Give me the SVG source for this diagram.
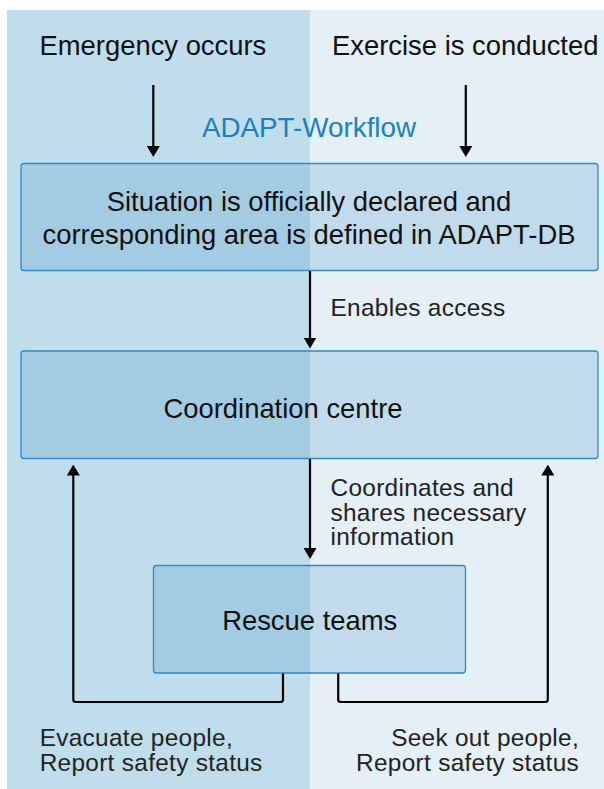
<svg xmlns="http://www.w3.org/2000/svg" width="604" height="789" viewBox="0 0 604 789">
  <style>
    .t { font-family: "Liberation Sans", Arial, Helvetica, sans-serif; fill: #111; }
    .big { font-size: 27.4px; }
    .lbl { font-size: 24.4px; letter-spacing: 0.3px; fill: #222; }
    .box { fill: #006eb4; fill-opacity: 0.15; stroke: #2f88c8; stroke-width: 1.3; }
    .ln { fill: none; stroke: #000; stroke-width: 2.2; stroke-linejoin: round; }
  </style>
  <defs>
    <marker id="ah" viewBox="0 0 11 13" markerWidth="11" markerHeight="13" refX="6" refY="6.5" orient="auto" markerUnits="userSpaceOnUse">
      <path d="M0,0 L11,6.5 L0,13 Z" fill="#000"/>
    </marker>
  </defs>

  <g id="background">
    <rect x="0" y="0" width="604" height="789" fill="#ffffff"/>
    <rect x="7" y="10" width="303" height="779" fill="#c0ddec"/>
    <rect x="310" y="10" width="294" height="779" fill="#e4eff6"/>
  </g>

  <g id="title">
    <text class="t" x="309" y="137" font-size="27.8" text-anchor="middle" style="fill:#1b7fc2">ADAPT-Workflow</text>
  </g>

  <g id="emergency">
    <text class="t big" x="39.5" y="55">Emergency occurs</text>
  </g>
  <g id="exercise">
    <text class="t big" x="332" y="55">Exercise is conducted</text>
  </g>

  <g id="declared">
    <rect class="box" x="21" y="163.5" width="577" height="107" rx="3"/>
    <text class="t big" x="309" y="211" text-anchor="middle">Situation is officially declared and</text>
    <text class="t big" x="309" y="244" text-anchor="middle">corresponding area is defined in ADAPT-DB</text>
  </g>

  <g id="coordination">
    <rect class="box" x="21" y="351" width="577" height="107.5" rx="3"/>
    <text class="t big" x="283" y="418" text-anchor="middle">Coordination centre</text>
  </g>

  <g id="rescue">
    <rect class="box" x="153.5" y="565.5" width="312" height="107.5" rx="3"/>
    <text class="t big" x="309.7" y="629.5" text-anchor="middle">Rescue teams</text>
  </g>

  <g id="connectors">
    <line class="ln" x1="153.3" y1="85" x2="153.3" y2="152" marker-end="url(#ah)"/>
    <line class="ln" x1="465.8" y1="85" x2="465.8" y2="152" marker-end="url(#ah)"/>
    <line class="ln" x1="310" y1="271" x2="310" y2="343.5" marker-end="url(#ah)"/>
    <line class="ln" x1="310" y1="459" x2="310" y2="554" marker-end="url(#ah)"/>
    <path class="ln" d="M283,673.5 V699.5 Q283,702 280.5,702 H75.8 Q73.3,702 73.3,699.5 V469.5" marker-end="url(#ah)"/>
    <path class="ln" d="M338.2,673.5 V699.5 Q338.2,702 340.7,702 H545.3 Q547.8,702 547.8,699.5 V469.5" marker-end="url(#ah)"/>
    <text class="t lbl" x="330.5" y="316">Enables access</text>
    <text class="t lbl" x="330.5" y="496">Coordinates and</text>
    <text class="t lbl" x="330.5" y="520.5">shares necessary</text>
    <text class="t lbl" x="330.5" y="545">information</text>
  </g>

  <g id="evacuate">
    <text class="t lbl" x="39.7" y="746.3">Evacuate people,</text>
    <text class="t lbl" x="39.7" y="771.3">Report safety status</text>
  </g>
  <g id="seek">
    <text class="t lbl" x="579" y="746.3" text-anchor="end">Seek out people,</text>
    <text class="t lbl" x="579" y="771.3" text-anchor="end">Report safety status</text>
  </g>
</svg>
